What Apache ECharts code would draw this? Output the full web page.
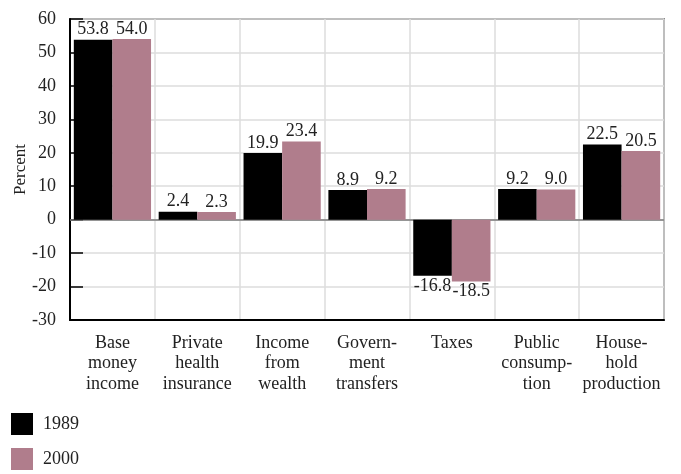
<!DOCTYPE html>
<html>
<head>
<meta charset="utf-8">
<script src="https://cdn.jsdelivr.net/npm/echarts@6/dist/echarts.min.js"></script>
<style>
  html, body { margin: 0; padding: 0; background: #fff; }
  #chart { width: 681px; height: 474px; }
</style>
</head>
<body>
<div id="chart"></div>
<script>
// Income components, percent of total, two survey years
const categories = [
  'Base\nmoney\nincome',
  'Private\nhealth\ninsurance',
  'Income\nfrom\nwealth',
  'Govern-\nment\ntransfers',
  'Taxes',
  'Public\nconsump-\ntion',
  'House-\nhold\nproduction'
];
const seriesNames = ['1989', '2000'];
const values1989 = [53.8, 2.4, 19.9, 8.9, -16.8, 9.2, 22.5];
const values2000 = [54.0, 2.3, 23.4, 9.2, -18.5, 9.0, 20.5];
const yTicks = { min: -30, max: 60, step: 10 };

const FONT = '"Liberation Serif", "DejaVu Serif", serif';
const TEXT = '#222';
const FS = 18;

// Labels sit above positive bars and below negative ones
function withLabels(arr) {
  return arr.map(v => ({
    value: v,
    label: { position: v < 0 ? 'bottom' : 'top' }
  }));
}

function barSeries(name, data, color, withZeroLine) {
  const s = {
    name: name,
    type: 'bar',
    data: withLabels(data),
    barGap: '0%',
    barCategoryGap: '9%',
    itemStyle: { color: color },
    label: {
      show: true,
      distance: 1,
      color: TEXT,
      fontFamily: FONT,
      fontSize: FS,
      formatter: p => p.value.toFixed(1)
    }
  };
  if (withZeroLine) {
    s.markLine = {
      silent: true,
      symbol: 'none',
      label: { show: false },
      lineStyle: { color: '#7a7a7a', width: 1.5, type: 'solid' },
      data: [{ yAxis: 0 }],
      z: 1
    };
  }
  return s;
}

const chart = echarts.init(document.getElementById('chart'), null, { renderer: 'canvas' });
chart.setOption({
  animation: false,
  backgroundColor: '#fff',
  textStyle: { fontFamily: FONT },
  grid: {
    left: 70, right: 17, top: 19, bottom: 154,
    containLabel: false,
    outerBoundsMode: 'none',
    show: true, borderColor: '#333', borderWidth: 1.5, backgroundColor: 'transparent'
  },
  legend: {
    orient: 'vertical',
    left: 11,
    top: 413,
    padding: 0,
    itemWidth: 22,
    itemHeight: 22,
    itemGap: 13,
    icon: 'rect',
    textStyle: { color: TEXT, fontFamily: FONT, fontSize: FS, padding: [0, 0, 0, 5] },
    data: seriesNames
  },
  xAxis: {
    type: 'category',
    data: categories,
    position: 'bottom',
    axisLine: { onZero: false, lineStyle: { color: '#000', width: 2 } },
    axisTick: { show: false },
    splitLine: { show: true, interval: 0, lineStyle: { color: '#dcdcdc', width: 1.5 } },
    axisLabel: {
      interval: 0,
      margin: 13,
      color: TEXT,
      fontFamily: FONT,
      fontSize: FS,
      lineHeight: 20.5,
      align: 'center'
    }
  },
  yAxis: {
    type: 'value',
    min: yTicks.min,
    max: yTicks.max,
    interval: yTicks.step,
    name: 'Percent',
    nameLocation: 'middle',
    nameGap: 41,
    nameMoveOverlap: false,
    nameRotate: 90,
    nameTextStyle: { color: TEXT, fontFamily: FONT, fontSize: 17 },
    axisLine: { show: true, lineStyle: { color: '#000', width: 2 } },
    axisTick: { show: true, inside: true, length: 13, lineStyle: { color: '#000', width: 1.5 } },
    splitLine: { show: true, lineStyle: { color: '#dcdcdc', width: 1.5 } },
    axisLabel: { color: TEXT, fontFamily: FONT, fontSize: FS, margin: 14 }
  },
  series: [
    barSeries(seriesNames[0], values1989, '#000000', true),
    barSeries(seriesNames[1], values2000, '#b07d8c', false)
  ]
});
</script>
</body>
</html>
